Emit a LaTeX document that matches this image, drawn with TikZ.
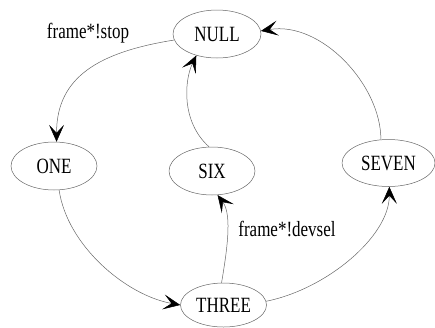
\documentclass[tikz,border=0pt]{standalone}
\usepackage{fontspec}
\setmainfont{Liberation Serif}
\usetikzlibrary{shapes.geometric,arrows.meta}
\newcommand{\stxt}[1]{\scalebox{1}[1.28]{#1}}
\begin{document}
\begin{tikzpicture}[yscale=-1,
  state/.style={draw=black!60, line width=0.5pt, ellipse, inner sep=0pt, font=\fontsize{17}{20}\selectfont},
  edge/.style={draw=black!60, line width=0.5pt, -{Stealth[length=17pt,width=15pt,inset=8pt,black]}},
  lbl/.style={font=\fontsize{17}{20}\selectfont, inner sep=0pt}]
\useasboundingbox (0pt,0pt) rectangle (435pt,327pt);
\node[state, minimum width=88pt, minimum height=48pt] (NULL) at (217pt,34pt) {\stxt{NULL}};
\node[state, minimum width=86pt, minimum height=48pt] (ONE) at (54pt,166pt) {\stxt{ONE}};
\node[state, minimum width=86pt, minimum height=48pt] (SIX) at (212pt,171pt) {\stxt{SIX}};
\node[state, minimum width=93pt, minimum height=47pt] (SEVEN) at (388.5pt,163pt) {\stxt{SEVEN}};
\node[state, minimum width=86pt, minimum height=44pt] (THREE) at (223.5pt,305pt) {\stxt{THREE}};
\node[lbl] (l1) at (88pt,33pt) {\stxt{frame*!stop}};
\node[lbl] (l2) at (287pt,229pt) {\stxt{frame*!devsel}};
\draw[edge] (NULL.188) .. controls +(-75pt,12pt) and +(0pt,-65pt) .. (ONE.84);
\draw[edge] (ONE.282) .. controls +(8pt,55pt) and +(-55pt,-10pt) .. (THREE.180);
\draw[edge] (THREE.95) .. controls +(5pt,-30pt) and +(15pt,20pt) .. (SIX.283);
\draw[edge] (SIX.97) .. controls +(-28pt,-25pt) and +(-12pt,25pt) .. (NULL.226);
\draw[edge] (THREE.5) .. controls +(60pt,-12pt) and +(0pt,50pt) .. (SEVEN.272);
\draw[edge] (SEVEN.108) .. controls +(0pt,-55pt) and +(60pt,-10pt) .. (NULL.4);
\end{tikzpicture}
\end{document}
